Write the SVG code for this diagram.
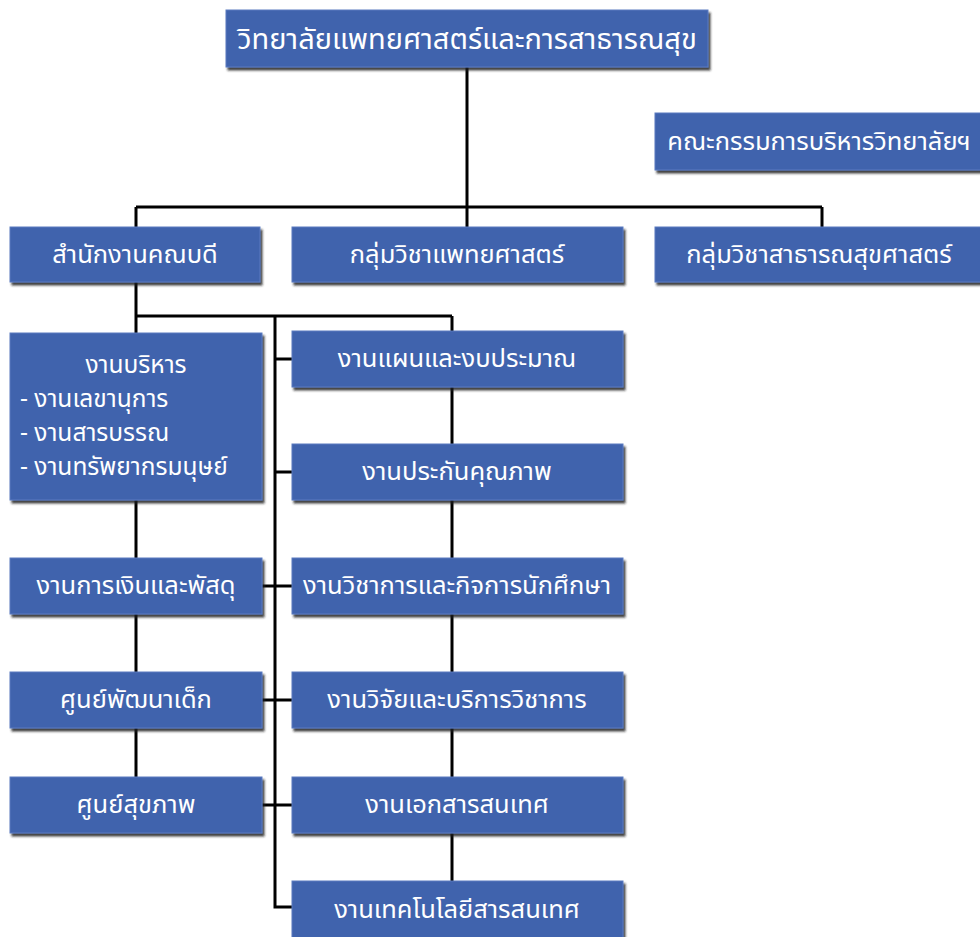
<svg xmlns="http://www.w3.org/2000/svg" width="980" height="937" viewBox="0 0 980 937">
<style>
.box{fill:#4063ad;stroke:#5a7bc0;stroke-width:1;filter:url(#sh)}
.t{fill:#ffffff;font-family:"Noto Sans Thai","Noto Sans","DejaVu Sans",sans-serif;font-size:25.5px;text-anchor:middle}
.tl{text-anchor:start}
.s{font-size:24.5px}
.title{font-size:29px}
.c{stroke:#000;stroke-width:3;fill:none}
</style>
<defs>
<filter id="sh" x="-5%" y="-10%" width="115%" height="130%">
<feDropShadow dx="2" dy="3" stdDeviation="1.2" flood-color="#222" flood-opacity="0.85"/>
</filter>
</defs>
<rect width="980" height="937" fill="#ffffff"/>
<g id="connectors">
<path class="c" d="M467 67V227M136 207H822M136 207V227M822 207V227"/>
<path class="c" d="M136 282V333M136 316H452M452 316V331M275 316V907H292"/>
<path class="c" d="M275 359H292M275 472H292M262 586H292M262 700H292M262 805H292"/>
<path class="c" d="M136 500V558M136 614V672M136 728V777"/>
<path class="c" d="M452 387V444M452 500V558M452 614V672M452 728V777M452 833V881"/>
</g>
<g id="n-title"><rect class="box" x="226" y="10" width="482" height="57"/><text class="t title" x="467" y="49">วิทยาลัยแพทยศาสตร์และการสาธารณสุข</text></g>
<g id="n-committee"><rect class="box" x="655" y="113" width="330" height="57"/><text class="t" x="819" y="150">คณะกรรมการบริหารวิทยาลัยฯ</text></g>
<g id="n-dean"><rect class="box" x="10" y="227" width="250" height="55"/><text class="t" x="135" y="263">สำนักงานคณบดี</text></g>
<g id="n-med"><rect class="box" x="292" y="227" width="331" height="55"/><text class="t" x="457" y="263">กลุ่มวิชาแพทยศาสตร์</text></g>
<g id="n-ph"><rect class="box" x="655" y="227" width="330" height="55"/><text class="t" x="819" y="263">กลุ่มวิชาสาธารณสุขศาสตร์</text></g>
<g id="n-admin"><rect class="box" x="10" y="333" width="252" height="167"/>
<text class="t s" x="136" y="373">งานบริหาร</text>
<text class="t s tl" x="20" y="407">- งานเลขานุการ</text>
<text class="t s tl" x="20" y="441">- งานสารบรรณ</text>
<text class="t s tl" x="20" y="475">- งานทรัพยากรมนุษย์</text></g>
<g id="n-finance"><rect class="box" x="10" y="558" width="252" height="56"/><text class="t" x="136" y="594">งานการเงินและพัสดุ</text></g>
<g id="n-child"><rect class="box" x="10" y="672" width="252" height="56"/><text class="t" x="136" y="708">ศูนย์พัฒนาเด็ก</text></g>
<g id="n-health"><rect class="box" x="10" y="777" width="252" height="56"/><text class="t" x="136" y="813">ศูนย์สุขภาพ</text></g>
<g id="n-plan"><rect class="box" x="292" y="331" width="331" height="56"/><text class="t" x="457" y="367">งานแผนและงบประมาณ</text></g>
<g id="n-qa"><rect class="box" x="292" y="444" width="331" height="56"/><text class="t" x="457" y="480">งานประกันคุณภาพ</text></g>
<g id="n-acad"><rect class="box" x="292" y="558" width="331" height="56"/><text class="t" x="457" y="594">งานวิชาการและกิจการนักศึกษา</text></g>
<g id="n-research"><rect class="box" x="292" y="672" width="331" height="56"/><text class="t" x="457" y="708">งานวิจัยและบริการวิชาการ</text></g>
<g id="n-doc"><rect class="box" x="292" y="777" width="331" height="56"/><text class="t" x="457" y="813">งานเอกสารสนเทศ</text></g>
<g id="n-it"><rect class="box" x="292" y="881" width="331" height="60"/><text class="t" x="457" y="918">งานเทคโนโลยีสารสนเทศ</text></g>
</svg>
